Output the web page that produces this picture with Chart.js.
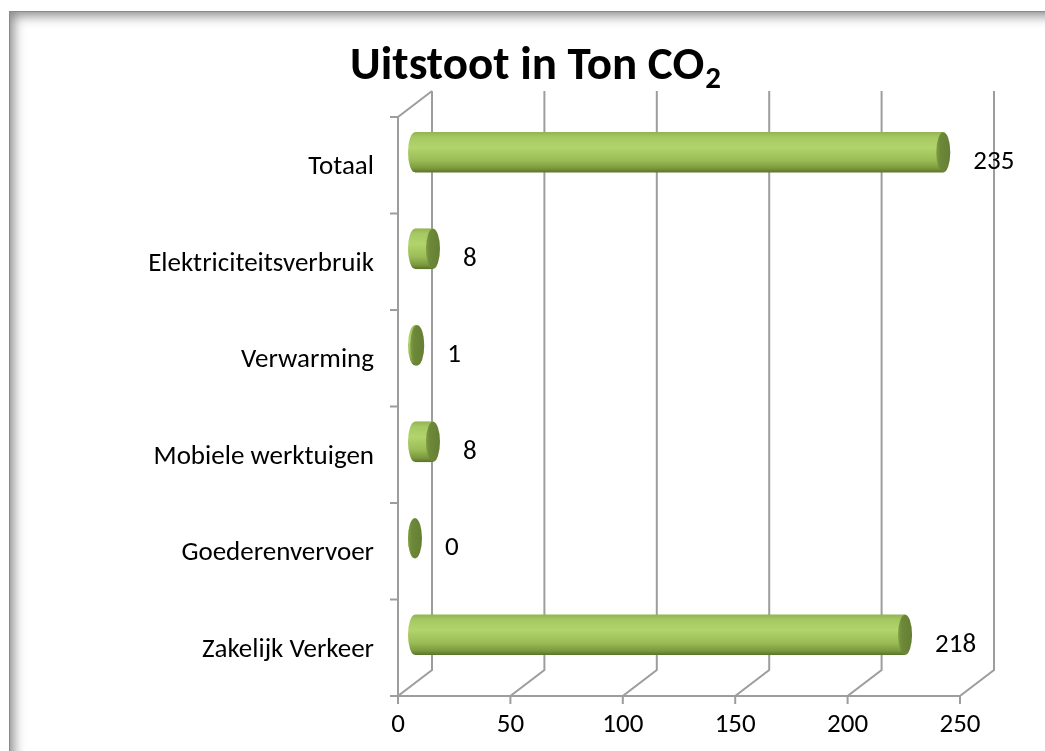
<!DOCTYPE html>
<html>
<head>
<meta charset="utf-8">
<title>Uitstoot in Ton CO2</title>
<script src="https://cdn.jsdelivr.net/npm/chart.js@4.4.1/dist/chart.umd.min.js"></script>
<style>
  html, body { margin: 0; padding: 0; background: #fff; }
  #wrap { position: relative; width: 1045px; height: 751px; overflow: hidden; }
  #barChart { position: absolute; left: 0; top: 0; }
  #frame {
    position: absolute; left: 9px; top: 11px; width: 1046px; height: 748px;
    border-top: 1px solid #8a8a8a; border-left: 1px solid #8a8a8a;
    box-shadow: inset 4px 4px 12px rgba(0,0,0,0.45), inset -4px -4px 10px rgba(0,0,0,0.08);
    pointer-events: none;
  }
</style>
</head>
<body>
<div id="wrap">
  <canvas id="barChart" width="1045" height="751"></canvas>
  <div id="frame"></div>
</div>
<script>
const titleMain = 'Uitstoot in Ton CO';
const titleSub = '2';
const categories = ['Totaal', 'Elektriciteitsverbruik', 'Verwarming', 'Mobiele werktuigen', 'Goederenvervoer', 'Zakelijk Verkeer'];
const emissions = [235, 8, 1, 8, 0, 218];
const tickValues = [0, 50, 100, 150, 200, 250];

const FONT = 'Carlito, Calibri, Lato, sans-serif';
const DEPTH_X = 17;   // half depth of the 3d box
const DEPTH_Y = 13;
const BAR_H = 40;
const CAP_RX = 7;

function barGradient(ctx, yc) {
  const g = ctx.createLinearGradient(0, yc - BAR_H / 2, 0, yc + BAR_H / 2);
  g.addColorStop(0, '#93b452');
  g.addColorStop(0.12, '#a6c862');
  g.addColorStop(0.38, '#b2d46c');
  g.addColorStop(0.7, '#9bbc56');
  g.addColorStop(0.9, '#7a9a3e');
  g.addColorStop(1, '#5c7529');
  return g;
}

// back wall, floor and left wall of the 3d box, plus bar ends and labels
const boxPlugin = {
  id: 'box3d',
  beforeDatasetsDraw(chart) {
    const { ctx, chartArea } = chart;
    const xs = chart.scales.x;
    const top = chartArea.top, bottom = chartArea.bottom, left = chartArea.left;
    ctx.save();
    ctx.strokeStyle = '#9d9d9d';
    ctx.lineWidth = 2;
    ctx.beginPath();
    tickValues.forEach(v => {
      const xm = xs.getPixelForValue(v);
      ctx.moveTo(xm + DEPTH_X, top - DEPTH_Y);
      ctx.lineTo(xm + DEPTH_X, bottom - DEPTH_Y);
      ctx.lineTo(xm - DEPTH_X, bottom + DEPTH_Y);
      ctx.lineTo(xm - DEPTH_X, bottom + DEPTH_Y + 8);
    });
    const x0 = xs.getPixelForValue(tickValues[0]);
    const x1 = xs.getPixelForValue(tickValues[tickValues.length - 1]);
    ctx.moveTo(x0 - DEPTH_X, bottom + DEPTH_Y);
    ctx.lineTo(x1 - DEPTH_X, bottom + DEPTH_Y);
    ctx.moveTo(left - DEPTH_X, bottom + DEPTH_Y);
    ctx.lineTo(left - DEPTH_X, top + DEPTH_Y);
    ctx.lineTo(left + DEPTH_X, top - DEPTH_Y);
    const step = (bottom - top) / categories.length;
    for (let i = 0; i <= categories.length; i++) {
      const y = top + i * step + DEPTH_Y;
      ctx.moveTo(left - DEPTH_X - 8, y);
      ctx.lineTo(left - DEPTH_X, y);
    }
    ctx.stroke();
    ctx.restore();
  },
  afterDatasetsDraw(chart) {
    const { ctx } = chart;
    const meta = chart.getDatasetMeta(0);
    ctx.save();
    meta.data.forEach((bar, i) => {
      const p = bar.getProps(['x', 'y', 'base', 'height'], true);
      const ry = p.height / 2;
      ctx.beginPath();
      ctx.ellipse(p.base, p.y, CAP_RX, ry, 0, Math.PI / 2, Math.PI * 1.5);
      ctx.closePath();
      ctx.fillStyle = barGradient(ctx, p.y);
      ctx.fill();
      ctx.beginPath();
      ctx.ellipse(p.x, p.y, CAP_RX, ry, 0, 0, Math.PI * 2);
      const cg = ctx.createLinearGradient(p.x - CAP_RX, 0, p.x + CAP_RX, 0);
      cg.addColorStop(0, '#7f9c44');
      cg.addColorStop(0.3, '#6c8838');
      cg.addColorStop(1, '#657f33');
      ctx.fillStyle = cg;
      ctx.fill();
      ctx.fillStyle = '#000';
      ctx.font = '27px ' + FONT;
      ctx.textAlign = 'left';
      ctx.textBaseline = 'middle';
      ctx.fillText(String(emissions[i]), p.x + 30, p.y + 10);
    });
    ctx.restore();
  },
  afterDraw(chart) {
    const { ctx } = chart;
    ctx.save();
    ctx.fillStyle = '#000';
    ctx.textBaseline = 'alphabetic';
    ctx.textAlign = 'left';
    ctx.font = 'bold 47px ' + FONT;
    const wMain = ctx.measureText(titleMain).width;
    ctx.font = 'bold 31px ' + FONT;
    const wSub = ctx.measureText(titleSub).width;
    const x = 535 - (wMain + wSub) / 2;
    ctx.font = 'bold 47px ' + FONT;
    ctx.fillText(titleMain, x, 79);
    ctx.font = 'bold 31px ' + FONT;
    ctx.fillText(titleSub, x + wMain + 1, 88);
    ctx.restore();
  }
};

const chart = new Chart(document.getElementById('barChart').getContext('2d'), {
  type: 'bar',
  data: {
    labels: categories,
    datasets: [{
      label: 'Uitstoot',
      data: emissions,
      barThickness: BAR_H,
      borderWidth: 0,
      backgroundColor: (c) => {
        const ch = c.chart;
        if (!ch.chartArea) return '#a6c862';
        return barGradient(ch.ctx, ch.scales.y.getPixelForValue(c.dataIndex));
      }
    }]
  },
  options: {
    indexAxis: 'y',
    responsive: false,
    animation: false,
    layout: { padding: { top: 104, right: 68, bottom: 0, left: 0 } },
    plugins: {
      legend: { display: false },
      tooltip: { enabled: false },
      title: { display: false }
    },
    scales: {
      x: {
        min: 0,
        max: 250,
        afterBuildTicks: (s) => { s.ticks = tickValues.map(v => ({ value: v })); },
        afterFit: (s) => { s.height = 68; },
        grid: { display: false, drawTicks: false },
        border: { display: false },
        ticks: { color: '#000', font: { family: FONT, size: 27 }, padding: 26, labelOffset: -DEPTH_X, maxRotation: 0 }
      },
      y: {
        afterFit: (s) => { s.width = 415; },
        grid: { display: false, drawTicks: false },
        border: { display: false },
        ticks: { color: '#000', font: { family: FONT, size: 27 }, padding: 41, labelOffset: DEPTH_Y + 2 }
      }
    }
  },
  plugins: [boxPlugin]
});
</script>
</body>
</html>
